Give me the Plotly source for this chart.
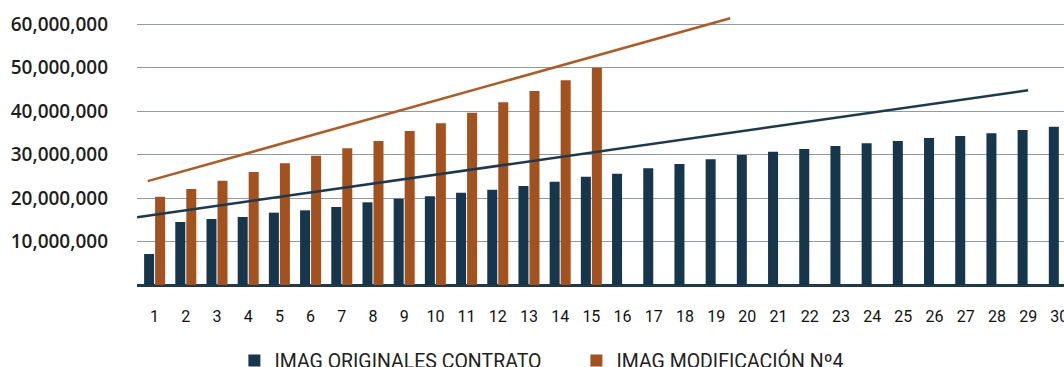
import plotly.graph_objects as go

# Periods (months) shown on the horizontal axis
periods = list(range(1, 31))
period_labels = [str(p) for p in periods]

# IMAG ORIGINALES CONTRATO – 30 periods
originales = [
    7.13e6, 14.5e6, 15.19e6, 15.65e6, 16.65e6, 17.19e6, 17.95e6, 19.03e6,
    19.87e6, 20.4e6, 21.25e6, 21.94e6, 22.78e6, 23.78e6, 24.93e6, 25.62e6,
    26.85e6, 27.85e6, 28.92e6, 29.92e6, 30.68e6, 31.3e6, 31.99e6, 32.6e6,
    33.14e6, 33.83e6, 34.29e6, 34.9e6, 35.67e6, 36.43e6,
]

# IMAG MODIFICACIÓN Nº4 – first 15 periods
modificacion = [
    20.33e6, 22.1e6, 24.0e6, 26.0e6, 28.0e6, 29.77e6, 31.45e6, 33.14e6,
    35.44e6, 37.2e6, 39.66e6, 42.04e6, 44.65e6, 47.1e6, 50.0e6,
]

# Trend lines (start / end of each)
trend_orig_x = [0.44, 29.0]
trend_orig_y = [15.6e6, 44.8e6]
trend_mod_x = [0.78, 19.45]
trend_mod_y = [23.9e6, 61.4e6]

y_ticks = [10e6, 20e6, 30e6, 40e6, 50e6, 60e6]

NAVY = "#18364b"
ORANGE = "#a3521f"
ORANGE_LINE = "#b25a22"

fig = go.Figure()

fig.add_trace(go.Bar(
    x=periods[:len(originales)], y=originales,
    name="IMAG ORIGINALES CONTRATO",
    marker=dict(color=NAVY, line=dict(width=0)),
))
fig.add_trace(go.Bar(
    x=periods[:len(modificacion)], y=modificacion,
    name="IMAG MODIFICACIÓN Nº4",
    marker=dict(color=ORANGE, line=dict(width=0)),
))
fig.add_trace(go.Scatter(
    x=trend_orig_x, y=trend_orig_y, mode="lines",
    line=dict(color="#1b3a50", width=2.5), showlegend=False,
))
fig.add_trace(go.Scatter(
    x=trend_mod_x, y=trend_mod_y, mode="lines",
    line=dict(color=ORANGE_LINE, width=2.5), showlegend=False,
))

fig.update_layout(
    width=1064, height=367,
    margin=dict(l=137, r=0, t=0, b=82, autoexpand=False),
    paper_bgcolor="white", plot_bgcolor="white",
    barmode="group", bargap=0.295, bargroupgap=0.09,
    showlegend=True,
    legend=dict(
        orientation="h", x=0.474, xanchor="center", y=-0.266, yanchor="middle",
        font=dict(family="Roboto", size=19.5, color="#222222"),
        entrywidth=297, traceorder="normal",
    ),
)

fig.update_xaxes(
    range=[0.436, 30.15],
    tickmode="array", tickvals=periods, ticktext=period_labels,
    showgrid=False, zeroline=False, showline=False, ticks="",
    tickfont=dict(family="Roboto", size=16, color="#111111"),
    ticklabelstandoff=20, ticklabeloverflow="allow",
)

fig.update_yaxes(
    range=[0, 65.59e6],
    tickmode="array", tickvals=y_ticks, tickformat=",d",
    showgrid=True, gridcolor="#8d9ca7", gridwidth=1,
    zeroline=True, zerolinecolor="#1b3a50", zerolinewidth=3,
    showline=False, ticks="",
    tickfont=dict(family="Open Sans", size=19, color="#1e1e1e", weight=600),
    ticklabelstandoff=28,
)

fig.write_html("out.html")
